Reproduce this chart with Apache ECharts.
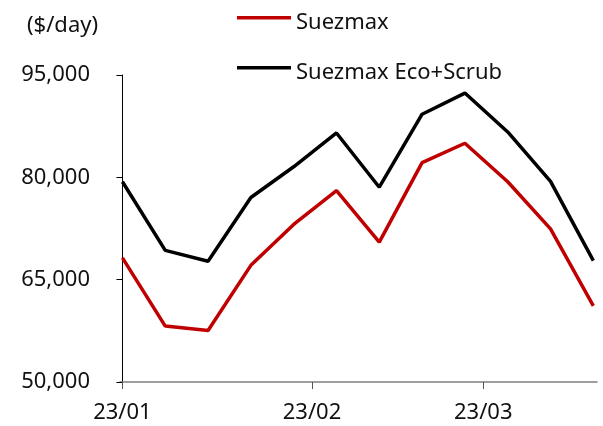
<!DOCTYPE html>
<html>
<head>
<meta charset="utf-8">
<script src="https://cdn.jsdelivr.net/npm/echarts@6/dist/echarts.min.js"></script>
<style>
  html, body { margin: 0; padding: 0; background: #fff; }
  #chart { width: 603px; height: 426px; }
</style>
</head>
<body>
<div id="chart"></div>
<script>
// weekly dates (2023)
var dates = ['2023-01-01', '2023-01-08', '2023-01-15', '2023-01-22', '2023-01-29', '2023-02-05',
  '2023-02-12', '2023-02-19', '2023-02-26', '2023-03-05', '2023-03-12', '2023-03-19'];
var suezmax = [68200, 58200, 57550, 67100, 73100, 78050, 70500, 82150, 85000, 79350, 72450, 61150];
var suezmaxEco = [79350, 69300, 67700, 77050, 81550, 86500, 78550, 89250, 92350, 86650, 79400, 67800];
// month ticks
var tickDates = ['2023-01-01', '2023-02-01', '2023-03-01'];
var tickLabels = ['23/01', '23/02', '23/03'];

var base = Date.UTC(2023, 0, 1);
function dayOf(s) {
  var p = s.split('-');
  return (Date.UTC(+p[0], +p[1] - 1, +p[2]) - base) / 86400000;
}
var tickDays = tickDates.map(dayOf);

function pairs(vals) {
  return vals.map(function (v, i) { return [dayOf(dates[i]), v]; });
}

var FONT = 'Noto Sans';
var chart = echarts.init(document.getElementById('chart'));

var option = {
  animation: false,
  textStyle: { fontFamily: FONT },
  title: {
    text: '($/day)',
    left: 22,
    top: 10,
    textStyle: { fontFamily: FONT, fontSize: 22, fontWeight: 'normal', color: '#111' }
  },
  legend: {
    orient: 'vertical',
    left: 232,
    top: 7,
    itemWidth: 54,
    itemHeight: 14,
    itemGap: 28,
    // line sits in the upper part of the icon box, like the original
    icon: 'path://M0,0 L54,0 L54,3.5 L0,3.5 Z M0,14 L0.01,14 L0,14 Z',
    textStyle: { fontFamily: FONT, fontSize: 22, color: '#111' },
    data: ['Suezmax', 'Suezmax Eco+Scrub']
  },
  grid: { left: 120, right: 6, top: 75, bottom: 44 },
  xAxis: {
    type: 'value',
    min: -0.4,
    max: 77.6,
    splitLine: { show: false },
    axisLine: { lineStyle: { color: '#808080', width: 1.5 } },
    axisTick: {
      customValues: tickDays,
      length: 7,
      lineStyle: { color: '#555', width: 1 }
    },
    axisLabel: {
      customValues: tickDays,
      margin: 20,
      fontSize: 22,
      color: '#111',
      fontFamily: FONT,
      formatter: function (v) {
        var i = tickDays.indexOf(v);
        return i >= 0 ? tickLabels[i] : '';
      }
    }
  },
  yAxis: {
    type: 'value',
    min: 50000,
    max: 95000,
    interval: 15000,
    splitLine: { show: false },
    axisLine: { show: true, lineStyle: { color: '#000', width: 1 } },
    axisTick: { show: true, length: 6, lineStyle: { color: '#000' } },
    axisLabel: {
      margin: 30,
      fontSize: 22,
      color: '#111',
      fontFamily: FONT,
      formatter: function (v) { return v.toLocaleString('en-US'); }
    }
  },
  series: [
    {
      name: 'Suezmax',
      type: 'line',
      data: pairs(suezmax),
      symbol: 'none',
      itemStyle: { color: '#C00000' },
      lineStyle: { color: '#C00000', width: 3.5 }
    },
    {
      name: 'Suezmax Eco+Scrub',
      type: 'line',
      data: pairs(suezmaxEco),
      symbol: 'none',
      itemStyle: { color: '#000000' },
      lineStyle: { color: '#000000', width: 3.5 }
    }
  ]
};
chart.setOption(option);
</script>
</body>
</html>
